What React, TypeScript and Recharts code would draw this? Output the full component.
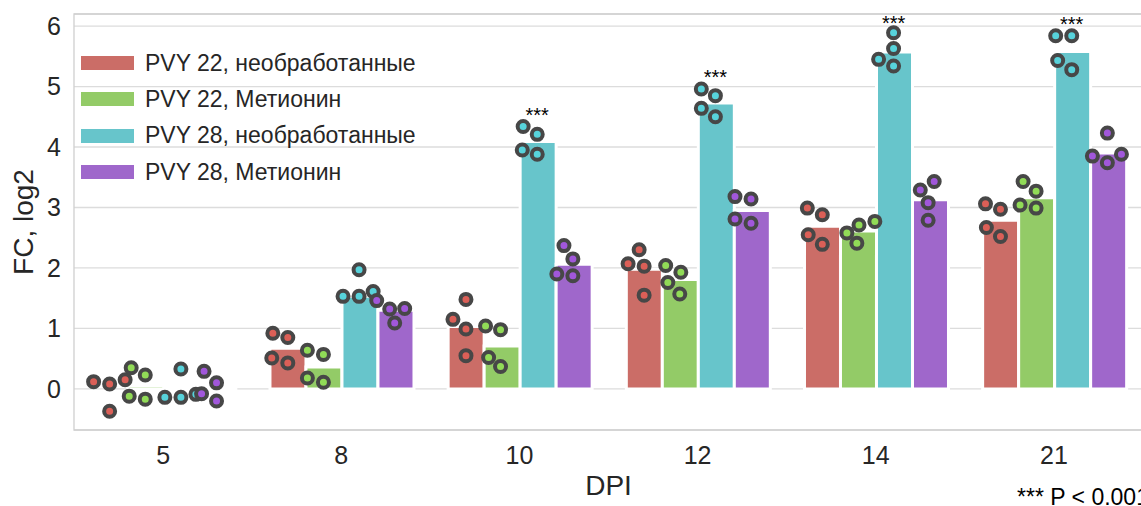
import React from "react";
import {
  Bar,
  CartesianGrid,
  ComposedChart,
  ReferenceArea,
  Scatter,
  XAxis,
  YAxis,
} from "recharts";

// categories and series
const DPI = ["5", "8", "10", "12", "14", "21"];
const GROUPS = [
  "PVY 22, необработанные",
  "PVY 22, Метионин",
  "PVY 28, необработанные",
  "PVY 28, Метионин",
];
const Y_TICKS = [0, 1, 2, 3, 4, 5, 6];

// mean FC per DPI
const BAR_R22 = [0.0, 0.67, 1.03, 1.98, 2.69, 2.79];
const BAR_M22 = [0.05, 0.36, 0.71, 1.81, 2.61, 3.16];
const BAR_R28 = [-0.01, 1.53, 4.09, 4.73, 5.57, 5.58];
const BAR_M28 = [0.03, 1.3, 2.06, 2.95, 3.13, 3.9];

// replicates per DPI
const PTS_R22 = [
  [0.12, 0.08, 0.15, -0.37],
  [0.92, 0.85, 0.51, 0.43],
  [1.48, 1.15, 0.99, 0.55],
  [2.3, 2.07, 2.03, 1.55],
  [2.99, 2.88, 2.55, 2.39],
  [3.06, 2.97, 2.67, 2.52],
];
const PTS_M22 = [
  [0.35, 0.23, -0.12, -0.17],
  [0.64, 0.57, 0.18, 0.11],
  [1.04, 0.98, 0.52, 0.37],
  [2.04, 1.93, 1.76, 1.57],
  [2.58, 2.71, 2.77, 2.41],
  [3.43, 3.27, 3.04, 2.99],
];
const PTS_R28 = [
  [0.33, -0.14, -0.14, -0.09],
  [1.97, 1.53, 1.53, 1.61],
  [4.34, 4.21, 3.95, 3.88],
  [4.96, 4.85, 4.64, 4.5],
  [5.89, 5.63, 5.45, 5.34],
  [5.84, 5.84, 5.43, 5.28],
];
const PTS_M28 = [
  [0.29, 0.1, -0.08, -0.2],
  [1.46, 1.32, 1.33, 1.09],
  [2.37, 2.15, 1.9, 1.87],
  [3.18, 3.14, 2.81, 2.74],
  [3.43, 3.29, 3.08, 2.79],
  [4.23, 3.85, 3.74, 3.88],
];

// strip jitter, in category widths
const JIT_R22 = [
  [-0.09, 0, 0.087, 0],
  [-0.084, 0, -0.09, 0],
  [0, -0.073, 0, 0],
  [-0.028, -0.09, 0, 0],
  [-0.084, 0, -0.079, 0],
  [-0.084, 0, -0.079, 0],
];
const JIT_M22 = [
  [-0.079, 0, -0.09, 0],
  [-0.09, 0, -0.09, 0],
  [-0.09, -0.006, -0.073, -0.006],
  [-0.079, 0.006, -0.067, 0],
  [-0.062, 0.006, 0.095, -0.006],
  [-0.073, 0, -0.09, 0],
];
const JIT_R28 = [
  [0, -0.09, 0, 0.084],
  [0, -0.09, 0, 0.079],
  [-0.079, 0, -0.084, 0],
  [-0.079, 0, -0.079, 0],
  [0, 0, -0.084, 0],
  [-0.09, 0, -0.079, 0],
];
const JIT_M28 = [
  [-0.07, 0, -0.084, 0],
  [-0.101, -0.028, 0.056, 0],
  [-0.05, 0, -0.09, 0],
  [-0.09, 0, -0.09, 0],
  [0.028, -0.05, -0.006, -0.006],
  [0, -0.084, 0, 0.079],
];

// "***" marks above PVY 28 untreated
const STARS = [null, null, 4.6, 5.22, 6.12, 6.1];

const BAR_COLORS = ["#cb6d67", "#93cb67", "#67c5cb", "#9f67cb"];
const DOT_COLORS = ["#db5f57", "#91db57", "#57d3db", "#a157db"];
const FONT = '"Liberation Sans", Arial, sans-serif';
const INK = "#262626";

const BARS = [BAR_R22, BAR_M22, BAR_R28, BAR_M28];
const PTS = [PTS_R22, PTS_M22, PTS_R28, PTS_M28];
const JIT = [JIT_R22, JIT_M22, JIT_R28, JIT_M28];

const barData = DPI.map((dpi, i) => ({
  dpi,
  g0: BARS[0][i],
  g1: BARS[1][i],
  g2: BARS[2][i],
  g3: BARS[3][i],
}));

// dodge offset of each hue inside a category (bar width 0.8 / 4)
const dodge = (g: number) => (g - 1.5) * 0.2;

const pointData = PTS.map((series, g) =>
  series.flatMap((vals, i) =>
    vals.map((v, k) => ({ x: i + 0.5 + dodge(g) + JIT[g][i][k], y: v })),
  ),
);

const starData = STARS.flatMap((v, i) =>
  v == null ? [] : [{ x: i + 0.5 + dodge(2), y: v }],
);

const makeDot = (color: string) => (props: any) => (
  <circle
    cx={props.cx}
    cy={props.cy}
    r={5.5}
    fill={color}
    stroke="#474747"
    strokeWidth={4}
  />
);

const StarMark = (props: any) => (
  <text
    x={props.cx}
    y={props.cy + 11}
    textAnchor="middle"
    fontSize={20}
    fontFamily={FONT}
    fill="#000"
  >
    ***
  </text>
);

const DpiLabel = ({ viewBox }: any) => {
  if (!viewBox) return null;
  return (
    <text
      x={viewBox.x + viewBox.width / 2}
      y={viewBox.y + 65}
      textAnchor="middle"
      fontSize={28}
      fontFamily={FONT}
      fill={INK}
    >
      DPI
    </text>
  );
};

const FcLabel = ({ viewBox }: any) => {
  if (!viewBox) return null;
  const x = viewBox.x + 33;
  const y = viewBox.y + viewBox.height / 2;
  return (
    <text
      x={x}
      y={y}
      transform={`rotate(-90, ${x}, ${y})`}
      textAnchor="middle"
      fontSize={28}
      fontFamily={FONT}
      fill={INK}
    >
      FC, log2
    </text>
  );
};

const LegendBox = () => (
  <div style={{ position: "absolute", left: 81, top: 45, fontFamily: FONT }}>
    {GROUPS.map((name, g) => (
      <div
        key={name}
        style={{ display: "flex", alignItems: "center", height: 36.3 }}
      >
        <div
          style={{
            width: 53,
            height: 14,
            background: BAR_COLORS[g],
            marginRight: 11,
          }}
        />
        <span style={{ fontSize: 23, color: INK, whiteSpace: "nowrap" }}>
          {name}
        </span>
      </div>
    ))}
  </div>
);

export default function App() {
  return (
    <div
      style={{
        position: "absolute",
        left: 0,
        top: 0,
        width: 1141,
        height: 506,
        overflow: "hidden",
        background: "#fff",
        fontFamily: FONT,
      }}
    >
      <ComposedChart
        width={1160}
        height={506}
        data={barData}
        margin={{ top: 14, right: 17, bottom: 0, left: 0 }}
        barCategoryGap="10%"
        barGap={0}
      >
        <CartesianGrid vertical={false} stroke="#dcdcdc" strokeWidth={1.3} />
        <XAxis
          dataKey="dpi"
          axisLine={false}
          tickLine={false}
          tickSize={0}
          tickMargin={16}
          height={76}
          interval={0}
          tick={{ fontSize: 25, fill: INK, fontFamily: FONT }}
          label={<DpiLabel />}
        />
        <XAxis
          xAxisId="num"
          dataKey="x"
          type="number"
          domain={[0, 6]}
          allowDataOverflow
          hide
        />
        <YAxis
          type="number"
          domain={[-0.68, 6.2]}
          allowDataOverflow
          ticks={Y_TICKS}
          axisLine={false}
          tickLine={false}
          tickSize={0}
          tickMargin={13}
          width={74}
          tick={{ fontSize: 25, fill: INK, fontFamily: FONT }}
          label={<FcLabel />}
        />
        <ReferenceArea
          xAxisId="num"
          x1={0}
          x2={6}
          y1={-0.68}
          y2={6.2}
          fill="none"
          stroke="#cfcfcf"
          strokeWidth={1.3}
        />
        {BAR_COLORS.map((c, g) => (
          <Bar
            key={`bar${g}`}
            dataKey={`g${g}`}
            fill={c}
            stroke="#ffffff"
            strokeWidth={3}
            isAnimationActive={false}
          />
        ))}
        {DOT_COLORS.map((c, g) => (
          <Scatter
            key={`pts${g}`}
            xAxisId="num"
            data={pointData[g]}
            dataKey="y"
            shape={makeDot(c)}
            isAnimationActive={false}
          />
        ))}
        <Scatter
          xAxisId="num"
          data={starData}
          dataKey="y"
          shape={StarMark}
          isAnimationActive={false}
        />
      </ComposedChart>
      <LegendBox />
      <div
        style={{
          position: "absolute",
          left: 1017,
          top: 484,
          fontSize: 23,
          color: "#000",
          whiteSpace: "nowrap",
        }}
      >
        *** P &lt; 0.001
      </div>
    </div>
  );
}
